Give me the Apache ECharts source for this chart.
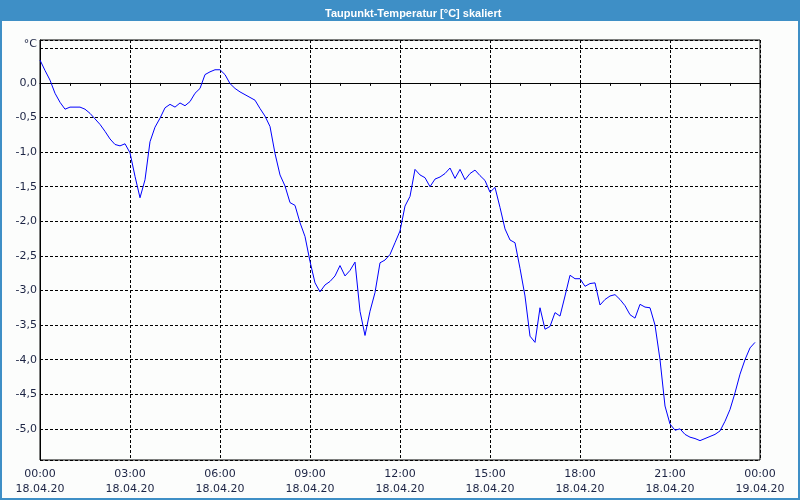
<!DOCTYPE html>
<html>
<head>
<meta charset="utf-8">
<script src="https://cdn.jsdelivr.net/npm/echarts@6/dist/echarts.min.js"></script>
<style>
html,body{margin:0;padding:0;background:#fff;}
#c{width:800px;height:500px;}
</style>
</head>
<body>
<div id="c"></div>
<script>
// Sampling: one value every 10 minutes starting 18.04.20 00:00
const startMinute = 0;
const stepMinutes = 10;
const dewPoint = [
 0.33, 0.18, 0.04, -0.15, -0.28, -0.38, -0.35, -0.35, -0.35, -0.38,
 -0.44, -0.52, -0.60, -0.70, -0.81, -0.89, -0.91, -0.88, -1.01, -1.35,
 -1.66, -1.40, -0.85, -0.64, -0.51, -0.36, -0.31, -0.35, -0.29, -0.33,
 -0.27, -0.15, -0.08, 0.12, 0.16, 0.19, 0.19, 0.12, -0.01, -0.08,
 -0.13, -0.17, -0.21, -0.25, -0.37, -0.48, -0.63, -1.02, -1.33, -1.49,
 -1.73, -1.77, -2.02, -2.22, -2.58, -2.89, -3.02, -2.92, -2.87, -2.79,
 -2.64, -2.79, -2.71, -2.59, -3.30, -3.65, -3.30, -3.03, -2.60, -2.56,
 -2.48, -2.31, -2.14, -1.78, -1.64, -1.25, -1.33, -1.37, -1.50, -1.39,
 -1.36, -1.31, -1.23, -1.38, -1.25, -1.40, -1.31, -1.26, -1.34, -1.41,
 -1.58, -1.51, -1.80, -2.11, -2.27, -2.31, -2.68, -3.08, -3.66, -3.75,
 -3.25, -3.56, -3.52, -3.32, -3.37, -3.08, -2.78, -2.83, -2.83, -2.94,
 -2.90, -2.89, -3.21, -3.13, -3.08, -3.06, -3.13, -3.22, -3.35, -3.40,
 -3.20, -3.24, -3.25, -3.50, -4.00, -4.67, -4.93, -5.02, -5.00, -5.08,
 -5.12, -5.14, -5.17, -5.14, -5.11, -5.08, -5.03, -4.89, -4.72, -4.48,
 -4.21, -4.00, -3.83, -3.75
];
const xTickTimes = ['00:00','03:00','06:00','09:00','12:00','15:00','18:00','21:00','00:00'];
const xTickDates = ['18.04.20','18.04.20','18.04.20','18.04.20','18.04.20','18.04.20','18.04.20','18.04.20','19.04.20'];
const titleText = 'Taupunkt-Temperatur [°C] skaliert';
const yUnit = '°C';
const yUnitAt = 0.5;

const seriesData = dewPoint.map((v, i) => [startMinute + i * stepMinutes, v]);
const txt = '#1c2444';
const font = 'Tahoma, "DejaVu Sans", "Liberation Sans", sans-serif';

const chart = echarts.init(document.getElementById('c'), null, {renderer: 'canvas'});
chart.setOption({
  backgroundColor: '#fcfdfc',
  animation: false,
  title: {
    text: titleText,
    left: 320,
    top: 3,
    textStyle: {color: '#ffffff', fontSize: 11, fontWeight: 'bold', fontFamily: '"Liberation Sans", sans-serif'}
  },
  graphic: [
    {type: 'rect', z: -1, shape: {x: 0, y: 0, width: 800, height: 21}, style: {fill: '#3e8fc6'}},
    {type: 'rect', z: -1, shape: {x: 1, y: 0, width: 798, height: 499}, style: {fill: null, stroke: '#3e8fc6', lineWidth: 2}}
  ],
  grid: {left: 40, right: 40, top: 40, bottom: 40, show: true, borderColor: '#000', borderWidth: 1, backgroundColor: 'transparent'},
  xAxis: {
    type: 'value',
    min: 0,
    max: 1440,
    interval: 180,
    axisLine: {lineStyle: {color: '#000', width: 1}},
    axisTick: {show: true, length: 3, lineStyle: {color: '#000'}},
    minorTick: {show: true, splitNumber: 3, length: 3, lineStyle: {color: '#000'}},
    splitLine: {show: true, lineStyle: {color: '#000', type: [3, 2], width: 1}},
    axisLabel: {
      margin: 7,
      color: txt,
      fontSize: 11,
      lineHeight: 15,
      fontFamily: font,
      formatter: function (v) {
        const i = Math.round(v / 180);
        return xTickTimes[i] + '\n' + xTickDates[i];
      }
    }
  },
  yAxis: {
    type: 'value',
    min: -5.45,
    max: 0.62,
    splitNumber: 12,
    axisLine: {show: true, lineStyle: {color: '#000', width: 1}},
    axisTick: {show: false},
    splitLine: {show: true, lineStyle: {color: '#000', type: [3, 2], width: 1}},
    axisLabel: {
      margin: 3,
      color: txt,
      fontSize: 11,
      fontFamily: font,
      showMinLabel: false,
      showMaxLabel: false,
      formatter: function (v) {
        if (Math.abs(v - yUnitAt) < 1e-6) return '{u|' + yUnit + '}';
        return v.toFixed(1).replace('.', ',');
      },
      rich: {u: {color: txt, fontSize: 11, fontFamily: font, padding: [0, 0, 9, 0]}}
    }
  },
  series: [{
    type: 'line',
    data: seriesData,
    showSymbol: false,
    symbol: 'none',
    lineStyle: {color: '#0000ff', width: 1},
    itemStyle: {color: '#0000ff'}
  }]
});
</script>
</body>
</html>
